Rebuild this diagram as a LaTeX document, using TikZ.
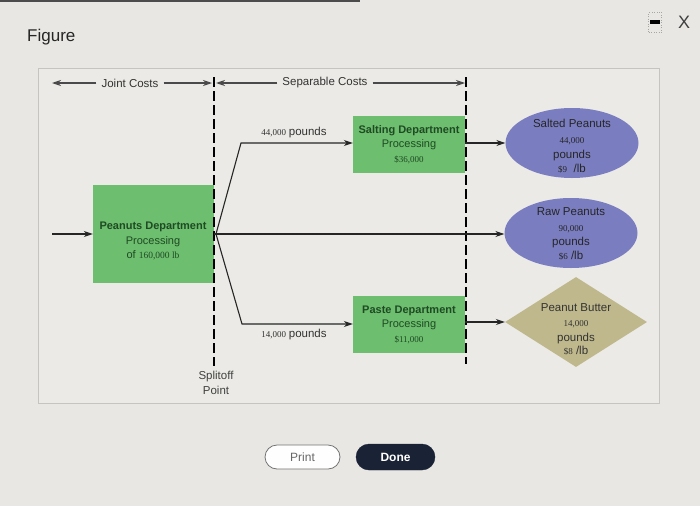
\documentclass[tikz,border=0pt]{standalone}
\usepackage{fontspec}
\setmainfont{Liberation Sans}
\newfontfamily\numfont{Liberation Serif}
\usetikzlibrary{shapes.geometric,arrows.meta}
\definecolor{bgc}{HTML}{E8E7E3}
\definecolor{panelc}{HTML}{EBEAE6}
\definecolor{panelline}{HTML}{C4C4C0}
\definecolor{boxgreen}{HTML}{6DBE6E}
\definecolor{textgreen}{HTML}{1F4A24}
\definecolor{ellblue}{HTML}{7A7EC0}
\definecolor{khaki}{HTML}{BFB88C}
\definecolor{navy}{HTML}{1A2236}
\definecolor{topgray}{HTML}{4A4A4A}
\tikzset{
  dept/.style={fill=boxgreen, draw=none, minimum width=112pt, minimum height=57pt, align=center, inner sep=0pt, text=textgreen},
  ell/.style={ellipse, fill=ellblue, draw=none, minimum width=133pt, minimum height=70pt, inner sep=0pt},
  prodtext/.style={align=center, text=black!85, font=\fontsize{11.5}{15}\selectfont},
  flow/.style={line width=1.1pt, draw=black!85},
  flowarrow/.style={flow, -{Stealth[length=9pt,width=6pt]}},
  topline/.style={line width=1.1pt, draw=topgray},
  toparrow/.style={topline, -{Stealth[length=9pt,width=6pt]}},
  divider/.style={line width=1.7pt, draw=black, dash pattern=on 10pt off 4pt},
  lbl/.style={font=\fontsize{11.5}{13}\selectfont, text=black!80, inner sep=5pt},
}
\newcommand{\nm}[1]{{\numfont\fontsize{9}{10}\selectfont #1}}
\begin{document}
\begin{tikzpicture}[x=1pt,y=-1pt]
\fill[bgc] (0,0) rectangle (700,506);
\useasboundingbox (0,0) rectangle (700,506);
\fill[black!70] (0,0) rectangle (360,1.5);
% title bar
\node[anchor=west, inner sep=0pt, font=\fontsize{17}{19}\selectfont, text=black!85] (title) at (27,37) {Figure};
\node[draw=black!35, dotted, line width=0.5pt, minimum width=13pt, minimum height=20pt, inner sep=0pt] (minbox) at (655,22) {};
\fill[black] ([xshift=-5pt,yshift=-1.8pt]minbox.center) rectangle ([xshift=5pt,yshift=1.8pt]minbox.center);
\node[font=\fontsize{18}{20}\selectfont, text=black!75] (closex) at (684,22) {X};
% panel
\draw[draw=panelline, fill=panelc, line width=0.6pt] (38,68) rectangle (659,403);
% top labels
\node[lbl] (joint) at (130,83) {Joint Costs};
\node[lbl] (sep) at (325,83) {Separable Costs};
\coordinate (jl) at (52,83);
\coordinate (jr) at (212,83);
\coordinate (sl) at (216,83);
\coordinate (sr) at (465,83);
\draw[toparrow] (joint.west) -- (jl);
\draw[toparrow] (joint.east) -- (jr);
\draw[toparrow] (sep.west) -- (sl);
\draw[toparrow] (sep.east) -- (sr);
% dividers
\coordinate (d1t) at (214,77);
\coordinate (d1b) at (214,366);
\coordinate (d2t) at (466,77);
\coordinate (d2b) at (466,364);
% boxes
\node[dept, minimum width=121pt, minimum height=98pt] (pd) at (153.5,234) {};
\node[text=textgreen, align=center, font=\fontsize{11}{14.5}\selectfont] (pdtxt) at (153,241)
  {\textbf{Peanuts Department}\\Processing\\of {\numfont\fontsize{9.5}{10}\selectfont 160,000 lb}};
\node[dept, font=\fontsize{11}{14.5}\selectfont] (salt) at (409,144.5)
  {\textbf{Salting Department}\\Processing\\\nm{\$36,000}};
\node[dept, font=\fontsize{11}{14.5}\selectfont] (paste) at (409,324.5)
  {\textbf{Paste Department}\\Processing\\\nm{\$11,000}};
\draw[divider] (d1t) -- (d1b);
\draw[divider] (d2t) -- (d2b);
% products
\node[ell] (sp) at (572,143) {};
\node[prodtext] (sptxt) at (572,146)
  {Salted Peanuts\\[1pt]\nm{44,000}\\[0pt]pounds\\[-1pt]\nm{\$9}\ \ /lb};
\node[ell] (rp) at (571,233) {};
\node[prodtext] (rptxt) at (571,234)
  {Raw Peanuts\\[1pt]\nm{90,000}\\[-1pt]pounds\\[-1pt]\nm{\$6} /lb};
\node[diamond, fill=khaki, draw=none, minimum width=142pt, minimum height=90pt, inner sep=0pt] (pb) at (576,322) {};
\node[prodtext, text=black!80] (pbtxt) at (576,329)
  {Peanut Butter\\[0pt]\nm{14,000}\\[0pt]pounds\\[-2pt]\nm{\$8} /lb};
% flows
\coordinate (in) at (52,234);
\draw[flowarrow] (in) -- (pd.west);
\coordinate (split) at (216,234);
\coordinate (up) at (241,143);
\coordinate (dn) at (242,324);
\draw[flowarrow] (split) -- (up) -- (salt.west |- up);
\draw[flowarrow] (split) -- (dn) -- (paste.west |- dn);
\draw[flowarrow] (pd.east) -- (pd.east -| rp.west);
\draw[flowarrow] (salt.east |- sp.west) -- (sp.west);
\draw[flowarrow] (paste.east |- pb.west) -- (pb.west);
% flow labels
\node[inner sep=0pt, text=black!80] (l44) at (294,133) {\nm{44,000} {\fontsize{11.5}{13}\selectfont pounds}};
\node[inner sep=0pt, text=black!80] (l14) at (294,335) {\nm{14,000} {\fontsize{11.5}{13}\selectfont pounds}};
% splitoff
\node[align=center, text=black!75, font=\fontsize{11.5}{15}\selectfont] (splitoff) at (216,383) {Splitoff\\Point};
% buttons
\node[draw=black!55, fill=white!95!bgc, line width=0.8pt, rounded corners=12pt, minimum width=75pt, minimum height=24pt, font=\fontsize{12}{14}\selectfont, text=black!60] (print) at (302.5,457) {Print};
\node[draw=navy, fill=navy, rounded corners=13pt, minimum width=79pt, minimum height=26pt, font=\bfseries\fontsize{12}{14}\selectfont, text=white] (done) at (395.5,457) {Done};
\end{tikzpicture}
\end{document}
